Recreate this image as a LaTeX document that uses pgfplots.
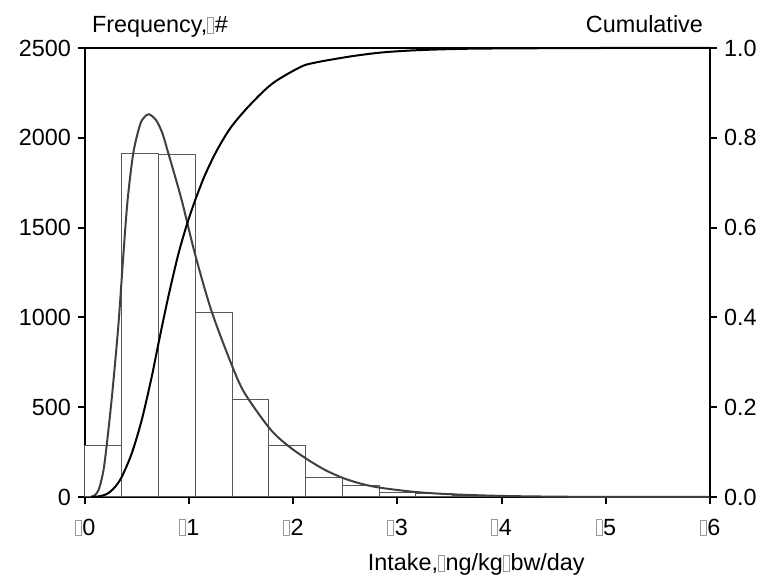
\documentclass[border=0pt]{standalone}
\usepackage{pgfplots}
\pgfplotsset{compat=1.18}
\usepackage{fontspec}
\setmainfont{Liberation Sans}
\newcommand\bx{{\color{black!40}\fboxsep=0pt\fboxrule=0.4pt\fbox{\rule{0pt}{7.5pt}\hspace{2.6pt}}}\hspace{0.4pt}}
\begin{document}
\begin{tikzpicture}
\pgfplotsset{every axis/.append style={font=\fontsize{11.7}{14}\selectfont}}
\begin{axis}[name=ax, scale only axis, width=312.5pt, height=224.5pt,
  xmin=0, xmax=6, ymin=0, ymax=2500, clip=false,
  axis line style={line width=1pt},
  tick style={line width=1pt, black}, major tick length=3.5pt, tick align=outside,
  xtick pos=bottom, ytick pos=left,
  xtick={0,1,2,3,4,5,6},
  xticklabels={\bx0,\bx1,\bx2,\bx3,\bx4,\bx5,\bx6},
  xticklabel style={yshift=-4pt},
  ytick={0,500,1000,1500,2000,2500},
  scaled y ticks=false,
  yticklabel style={/pgf/number format/1000 sep={}},
  /pgf/number format/assume math mode=true,
  minor tick num=0]
\addplot[ybar interval, draw=black!65, line width=0.5pt, fill=white] coordinates {
(0,284) (0.353,1914) (0.706,1906) (1.059,1030) (1.412,545) (1.765,284) (2.118,111)
(2.471,65) (2.824,26) (3.176,18) (3.529,8) (3.882,4) (4.235,2) (4.588,0)};
\addplot[smooth, tension=0.5, draw=black!75, line width=1pt] coordinates {
(0.05,0) (0.09,8) (0.128,36) (0.16,100) (0.191,203) (0.255,538) (0.319,946) (0.367,1337)
(0.409,1653) (0.464,1916) (0.528,2072) (0.57,2115) (0.614,2131) (0.68,2100) (0.74,2030)
(0.8,1914) (0.925,1660) (1.053,1360) (1.212,1040) (1.404,742) (1.531,580) (1.775,380)
(1.95,285) (2.128,212) (2.3,152) (2.48,105) (2.65,74) (2.83,52) (3.17,28) (3.52,15)
(4.0,6) (4.5,2) (5,0.5) (6,0)};
\node[anchor=base west] at (rel axis cs:0,1) [yshift=7.5pt] {Frequency,\bx\#};
\node[anchor=base east] at (rel axis cs:1,1) [yshift=7.5pt] {Cumulative};
\node[anchor=base] at (rel axis cs:0.626,0) [yshift=-37pt] {Intake,\bx ng/kg\bx bw/day};
\end{axis}
\begin{axis}[scale only axis, width=312.5pt, height=224.5pt,
  xmin=0, xmax=6, ymin=0, ymax=1, clip=false,
  axis x line=none, axis y line*=right,
  axis line style={line width=1pt},
  tick style={line width=1pt, black}, major tick length=3.5pt, tick align=outside,
  ytick={0,0.2,0.4,0.6,0.8,1.0},
  yticklabel style={/pgf/number format/.cd, fixed, fixed zerofill, precision=1},
  /pgf/number format/assume math mode=true,
  minor tick num=0]
\addplot[smooth, tension=0.5, draw=black, line width=1pt] coordinates {
(0.06,0) (0.15,0.002) (0.22,0.008) (0.287,0.022) (0.351,0.044) (0.447,0.096) (0.543,0.17)
(0.638,0.265) (0.708,0.345) (0.797,0.443) (0.893,0.538) (0.973,0.603) (1.053,0.658)
(1.15,0.716) (1.264,0.771) (1.4,0.823) (1.583,0.873) (1.8,0.921) (2.063,0.957) (2.2,0.967)
(2.543,0.981) (2.85,0.99) (3.18,0.995) (3.6,0.998) (4,0.999) (5,1) (6,1)};
\end{axis}
\path ([shift={(-42.5pt,-40.5pt)}]ax.south west) rectangle ([shift={(28pt,24pt)}]ax.north east);
\end{tikzpicture}
\end{document}
